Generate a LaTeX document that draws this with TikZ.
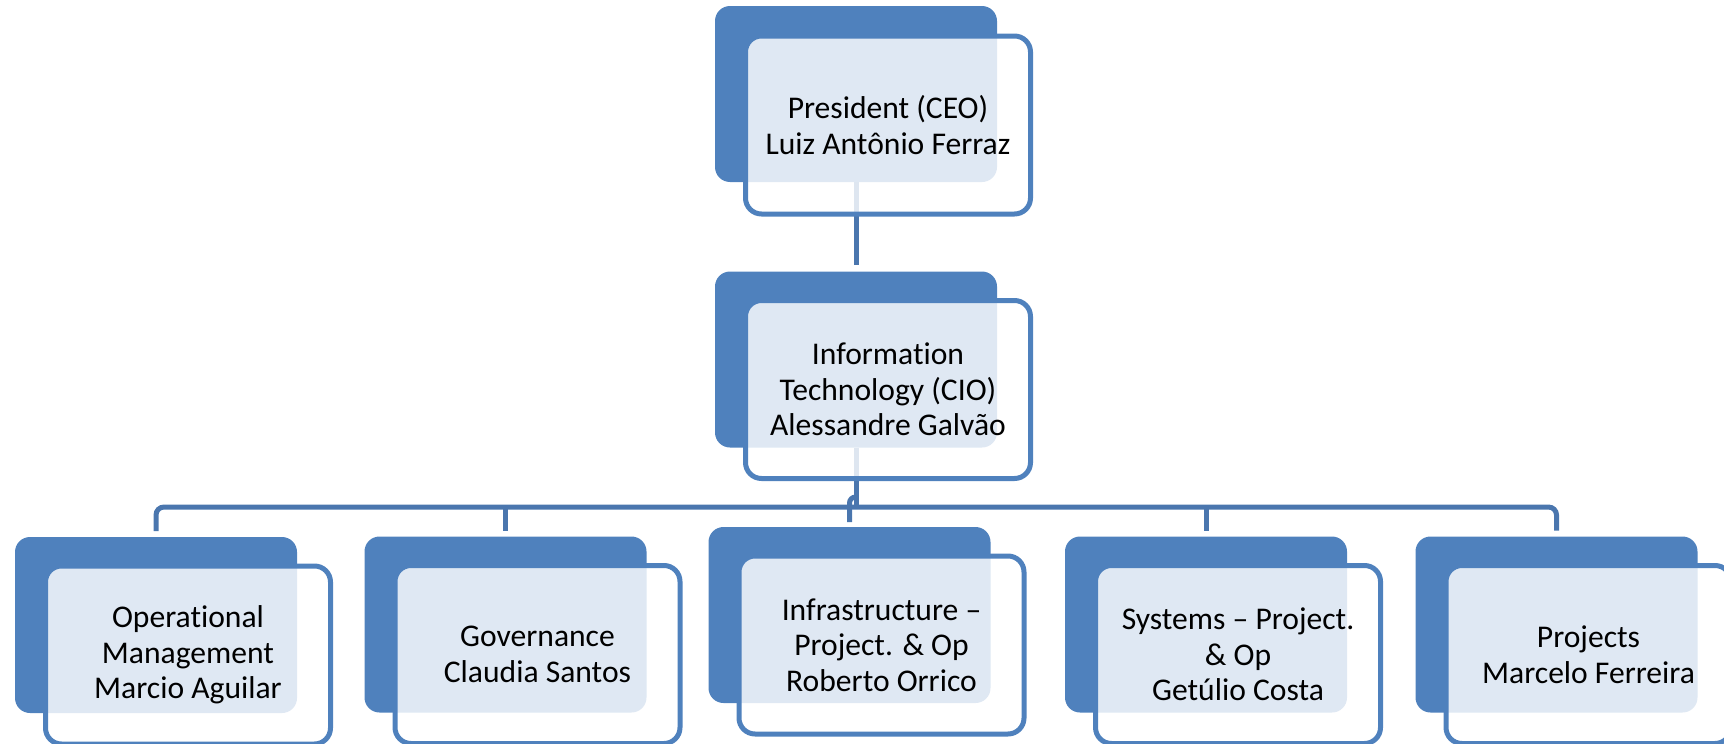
\documentclass[tikz,border=0pt]{standalone}
\usepackage{fontspec}
\setmainfont{Carlito}[Ligatures=NoCommon]
\usetikzlibrary{calc}
\definecolor{boxblue}{HTML}{4F81BD}
\definecolor{lineblue}{HTML}{4A76AE}
\begin{document}
\begin{tikzpicture}[x=0.5pt,y=-0.5pt,
  backbox/.style={rounded corners=7.5pt, fill=boxblue, minimum width=141pt, minimum height=88pt, inner sep=0pt, outer sep=0pt},
  frontbox/.style={rounded corners=8pt, draw=boxblue, line width=2.5pt, fill=white, fill opacity=0.82, text opacity=1, minimum width=142.5pt, minimum height=89pt, inner sep=0pt, outer sep=0pt, align=center, font=\fontsize{15.8pt}{17.75pt}\selectfont},
  conn/.style={draw=lineblue, line width=2.5pt}]
\useasboundingbox (0,0) rectangle (1724,744);
\clip (0,0) rectangle (1724,744);
% back boxes
\node[backbox] (ceoB) at (856,94) {};
\node[backbox] (cioB) at (856,359.5) {};
\node[backbox] (b1B) at (156,625) {};
\node[backbox] (b2B) at (505.5,624.5) {};
\node[backbox] (b3B) at (849.5,615) {};
\node[backbox] (b4B) at (1206,624.5) {};
\node[backbox] (b5B) at (1556.5,624.5) {};
% connectors
\coordinate (busC) at (856,507);
\draw[conn] (ceoB.south) -- ($(cioB.north)+(0,-7)$);
\draw[conn] (cioB.south) -- (busC);
\draw[conn, rounded corners=4pt] ($(b1B.north)+(0,-6)$) |- (busC) -| ($(b5B.north)+(0,-6)$);
\draw[conn] ($(b2B.north)+(0,-6)$) -- (b2B.north |- busC);
\draw[conn] ($(b4B.north)+(0,-6)$) -- (b4B.north |- busC);
\draw[conn, rounded corners=3pt] ($(b3B.north)+(0,-5)$) |- ($(busC)+(0,-10)$);
% front boxes
\node[frontbox] (ceo) at ($(ceoB)+(32,31)$) {President (CEO)\\Luiz Antônio Ferraz};
\node[frontbox] (cio) at ($(cioB)+(32,30)$) {Information\\Technology (CIO)\\Alessandre Galvão};
\node[frontbox] (b1) at ($(b1B)+(32,30)$) {Operational\\Management\\Marcio Aguilar};
\node[frontbox] (b2) at ($(b2B)+(32,30)$) {Governance\\Claudia Santos};
\node[frontbox] (b3) at ($(b3B)+(32,30)$) {Infrastructure –\\Project. \& Op\\Roberto Orrico};
\node[frontbox] (b4) at ($(b4B)+(32,30)$) {Systems – Project.\\\& Op\\Getúlio Costa};
\node[frontbox] (b5) at ($(b5B)+(32,30)$) {Projects\\Marcelo Ferreira};
\end{tikzpicture}
\end{document}
